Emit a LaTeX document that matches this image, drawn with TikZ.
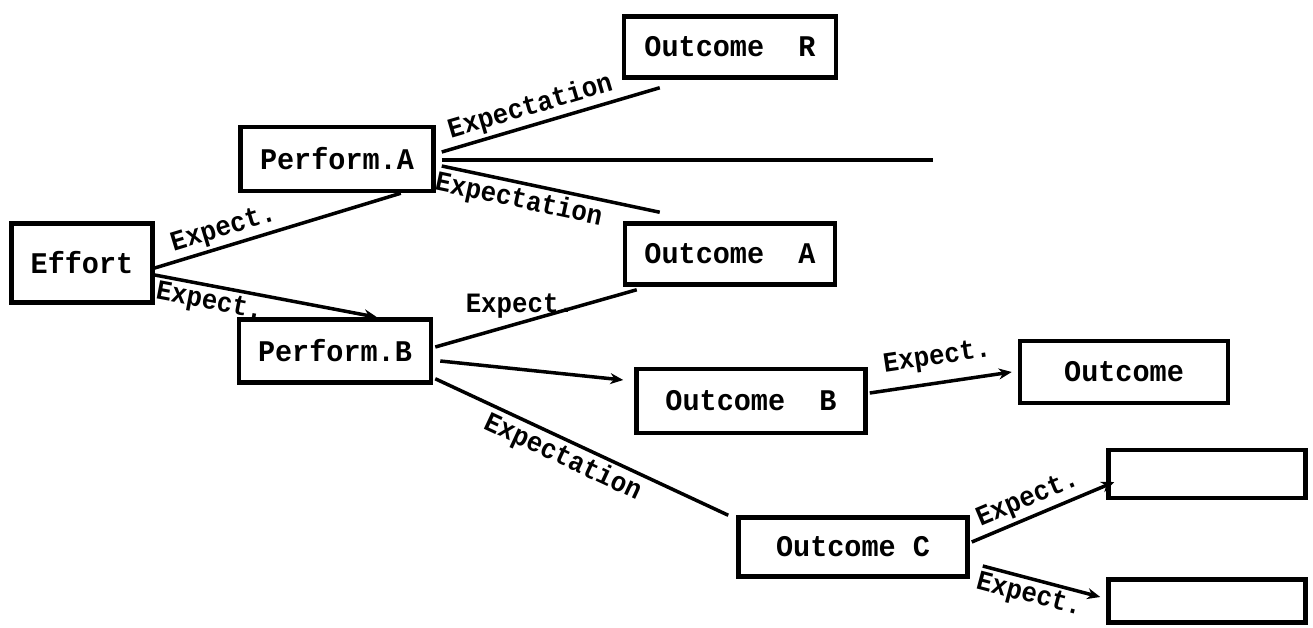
\documentclass[tikz,border=0pt]{standalone}
\usepackage{fontspec}
\newfontfamily\boxfnt{Liberation Mono}[FakeStretch=0.95]
\newfontfamily\labfnt{Liberation Mono}[FakeStretch=0.92]
\usetikzlibrary{arrows.meta,calc}
\begin{document}
\begin{tikzpicture}[x=1pt,y=-1pt,
  box/.style={draw, line width=4.5pt, inner sep=0pt,
    font=\boxfnt\bfseries\fontsize{30}{36}\selectfont},
  conn/.style={line width=3.5pt},
  tip/.style={-{Stealth[length=13pt,width=11pt]}},
  lab/.style={font=\labfnt\bfseries\fontsize{28}{32}\selectfont, inner sep=3pt}
]
\useasboundingbox (0,0) rectangle (1313,628);

\node[box, minimum width=141pt, minimum height=79pt] (effort) at (82,263) {Effort};
\node[box, minimum width=193pt, minimum height=64pt] (pa) at (337,159) {Perform.A};
\node[box, minimum width=192pt, minimum height=63pt] (pb) at (335,351) {Perform.B};
\node[box, minimum width=212pt, minimum height=61pt] (oR) at (730,47) {Outcome\ \ R};
\node[box, minimum width=210pt, minimum height=61pt] (oA) at (730,254) {Outcome\ \ A};
\node[box, minimum width=229pt, minimum height=64pt] (oB) at (751,401) {Outcome\ \ B};
\node[box, minimum width=208pt, minimum height=62pt] (oX) at (1124,372) {Outcome};
\node[box, minimum width=229pt, minimum height=59pt] (oC) at (853,547) {Outcome C};
\node[box, minimum width=197pt, minimum height=48pt] (e1) at (1207,474) {};
\node[box, minimum width=197pt, minimum height=43pt] (e2) at (1207,601) {};
\coordinate (hend) at (933,160);

\draw[conn] ($(effort.east)+(0,5)$) -- node[lab, pos=0.3, above, sloped] {Expect.} ($(pa.south east)+(-35,0)$);
\draw[conn, tip] ($(effort.east)+(0,12)$) -- node[lab, pos=0.26, below, sloped] {Expect.} ($(pb.north)+(42,0)$);
\draw[conn] ($(pa.east)+(6,-7)$) -- node[lab, pos=0.43, above, sloped] {Expectation} ($(oR.south west)+(38,8)$);
\draw[conn] ($(pa.east)+(6,1)$) -- (hend);
\draw[conn] ($(pa.east)+(6,7)$) -- node[lab, pos=0.37, below, sloped] {Expectation} ($(oA.north west)+(37,-9)$);
\draw[conn] ($(pb.east)+(2,-4)$) -- node[lab, pos=0.42, above] {Expect.} ($(oA.south west)+(14,3)$);
\draw[conn, tip] ($(pb.east)+(7,10)$) -- ($(oB.west)+(-11,-21)$);
\draw[conn] ($(pb.south east)+(2,-6)$) -- node[lab, pos=0.46, below, sloped] {Expectation} ($(oC.north west)+(-8,0)$);
\draw[conn, tip] ($(oB.east)+(2,-8)$) -- node[lab, pos=0.5, above, sloped, yshift=8pt] {Expect.} ($(oX.west)+(-6,0)$);
\draw[conn, tip] ($(oC.east)+(2,-5)$) -- node[lab, pos=0.44, above, sloped] {Expect.} ($(e1.west)+(8,8)$);
\draw[conn, tip] ($(oC.east)+(13,19)$) -- node[lab, pos=0.43, below, sloped] {Expect.} ($(e2.west)+(-6,-4)$);
\end{tikzpicture}
\end{document}
